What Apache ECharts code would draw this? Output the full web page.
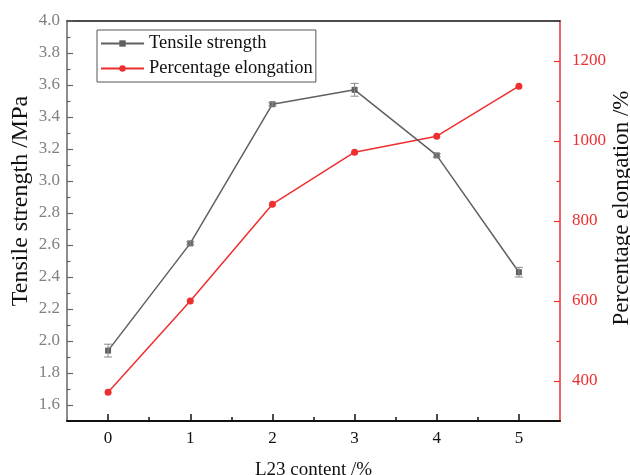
<!DOCTYPE html>
<html>
<head>
<meta charset="utf-8">
<script src="https://cdn.jsdelivr.net/npm/echarts@6/dist/echarts.min.js"></script>
<style>
html,body{margin:0;padding:0;background:#fff;}
#chart{width:630px;height:475px;}
</style>
</head>
<body>
<div id="chart"></div>
<script>
// ---- data ----
var contents = [0, 1, 2, 3, 4, 5];
var tensileStrength = [1.94, 2.61, 3.48, 3.57, 3.16, 2.43];
var tensileError = [0.04, 0.01, 0.01, 0.04, 0.01, 0.03];
var elongation = [372, 600, 842, 972, 1012, 1137];
var xTickLabels = [0, 1, 2, 3, 4, 5];
var xMinorTicks = [0.5, 1.5, 2.5, 3.5, 4.5];
var leftTickLabels = [1.6, 1.8, 2.0, 2.2, 2.4, 2.6, 2.8, 3.0, 3.2, 3.4, 3.6, 3.8, 4.0];
var leftMinorTicks = [1.7, 1.9, 2.1, 2.3, 2.5, 2.7, 2.9, 3.1, 3.3, 3.5, 3.7, 3.9];
var rightTickLabels = [400, 600, 800, 1000, 1200];
var rightMinorTicks = [500, 700, 900, 1100];

var FONT = '"Liberation Serif", "Times New Roman", serif';
var RED = '#ee2f2f';
var GRAY_LINE = '#606060';

var tensilePts = contents.map(function (x, i) { return [x, tensileStrength[i]]; });
var elongPts = contents.map(function (x, i) { return [x, elongation[i]]; });
var errPts = contents.map(function (x, i) {
  return [x, tensileStrength[i] - tensileError[i], tensileStrength[i] + tensileError[i]];
});

var chart = echarts.init(document.getElementById('chart'), null, { renderer: 'canvas' });

var xBase = { type: 'value', min: -0.5, max: 5.5, gridIndex: 0, splitLine: { show: false } };
var yLeftBase = { type: 'value', min: 1.5, max: 4.0, splitLine: { show: false } };
var yRightBase = { type: 'value', min: 300, max: 1300, splitLine: { show: false } };

var option = {
  animation: false,
  backgroundColor: '#ffffff',
  grid: { left: 67, right: 70, top: 21, bottom: 54, containLabel: false, outerBoundsMode: 'none' },
  legend: {
    orient: 'vertical',
    left: 97,
    top: 30,
    padding: [4, 3, 4, 3],
    itemGap: 6,
    itemWidth: 43,
    itemHeight: 8,
    borderColor: '#555',
    borderWidth: 1,
    backgroundColor: '#fff',
    textStyle: { fontFamily: FONT, fontSize: 18.5, color: '#111' },
    data: ['Tensile strength', 'Percentage elongation']
  },
  xAxis: [
    Object.assign({}, xBase, {
      position: 'bottom',
      name: 'L23 content /%',
      nameLocation: 'middle',
      nameGap: 40,
      nameTextStyle: { fontFamily: FONT, fontSize: 19, color: '#111' },
      axisLine: { show: true, onZero: false, lineStyle: { color: '#111', width: 2 } },
      axisTick: { show: true, inside: true, length: 7, customValues: xTickLabels, lineStyle: { color: '#111', width: 1.5 } },
      axisLabel: { show: true, customValues: xTickLabels, margin: 9, fontFamily: FONT, fontSize: 17, color: '#111' }
    }),
    Object.assign({}, xBase, {
      position: 'bottom',
      axisLine: { show: false, onZero: false },
      axisTick: { show: true, inside: true, length: 4, customValues: xMinorTicks, lineStyle: { color: '#111', width: 1.5 } },
      axisLabel: { show: false }
    }),
    Object.assign({}, xBase, {
      position: 'top',
      axisLine: { show: true, onZero: false, lineStyle: { color: '#111', width: 1.5 } },
      axisTick: { show: false },
      axisLabel: { show: false }
    })
  ],
  yAxis: [
    Object.assign({}, yLeftBase, {
      position: 'left',
      name: 'Tensile strength /MPa',
      nameLocation: 'middle',
      nameGap: 34,
      nameRotate: 90,
      nameMoveOverlap: false,
      nameTextStyle: { fontFamily: FONT, fontSize: 24, color: '#111', padding: [0, 0, 0, 40] },
      axisLine: { show: true, onZero: false, lineStyle: { color: '#666', width: 1.5 } },
      axisTick: { show: true, inside: true, length: 6, customValues: leftTickLabels, lineStyle: { color: '#666', width: 1.2 } },
      axisLabel: {
        show: true, customValues: leftTickLabels, margin: 7,
        fontFamily: FONT, fontSize: 17, color: '#808080',
        formatter: function (v) { return Number(v).toFixed(1); }
      }
    }),
    Object.assign({}, yRightBase, {
      position: 'right',
      name: 'Percentage elongation /%',
      nameLocation: 'middle',
      nameGap: 50,
      nameRotate: 90,
      nameMoveOverlap: false,
      nameTextStyle: { fontFamily: FONT, fontSize: 23, color: '#111', padding: [0, 0, 0, 26] },
      axisLine: { show: true, onZero: false, lineStyle: { color: RED, width: 1.5 } },
      axisTick: { show: true, inside: true, length: 6, customValues: rightTickLabels, lineStyle: { color: RED, width: 1.2 } },
      axisLabel: {
        show: true, customValues: rightTickLabels, margin: 12, fontFamily: FONT, fontSize: 17, color: RED,
        formatter: function (v) { return String(Math.round(v)); }
      }
    }),
    Object.assign({}, yLeftBase, {
      position: 'left',
      axisLine: { show: false, onZero: false },
      axisTick: { show: true, inside: true, length: 3.5, customValues: leftMinorTicks, lineStyle: { color: '#666', width: 1.2 } },
      axisLabel: { show: false }
    }),
    Object.assign({}, yRightBase, {
      position: 'right',
      axisLine: { show: false, onZero: false },
      axisTick: { show: true, inside: true, length: 3.5, customValues: rightMinorTicks, lineStyle: { color: RED, width: 1.2 } },
      axisLabel: { show: false }
    })
  ],
  series: [
    {
      name: 'Percentage elongation',
      type: 'line',
      xAxisIndex: 0,
      yAxisIndex: 1,
      data: elongPts,
      symbol: 'circle',
      symbolSize: 7,
      itemStyle: { color: RED },
      lineStyle: { color: RED, width: 1.5 },
      z: 3
    },
    {
      name: 'Tensile strength',
      type: 'line',
      xAxisIndex: 0,
      yAxisIndex: 0,
      data: tensilePts,
      symbol: 'rect',
      symbolSize: 6,
      itemStyle: { color: GRAY_LINE },
      lineStyle: { color: GRAY_LINE, width: 1.5 },
      z: 4
    },
    {
      name: 'errorbar',
      type: 'custom',
      xAxisIndex: 0,
      yAxisIndex: 0,
      data: errPts,
      z: 5,
      renderItem: function (params, api) {
        var x = api.value(0);
        var lo = api.coord([x, api.value(1)]);
        var hi = api.coord([x, api.value(2)]);
        var hw = 4;
        var style = { stroke: '#888', lineWidth: 1 };
        return {
          type: 'group',
          children: [
            { type: 'line', shape: { x1: lo[0], y1: lo[1], x2: hi[0], y2: hi[1] }, style: style },
            { type: 'line', shape: { x1: lo[0] - hw, y1: lo[1], x2: lo[0] + hw, y2: lo[1] }, style: style },
            { type: 'line', shape: { x1: hi[0] - hw, y1: hi[1], x2: hi[0] + hw, y2: hi[1] }, style: style }
          ]
        };
      }
    }
  ]
};

chart.setOption(option);
</script>
</body>
</html>
